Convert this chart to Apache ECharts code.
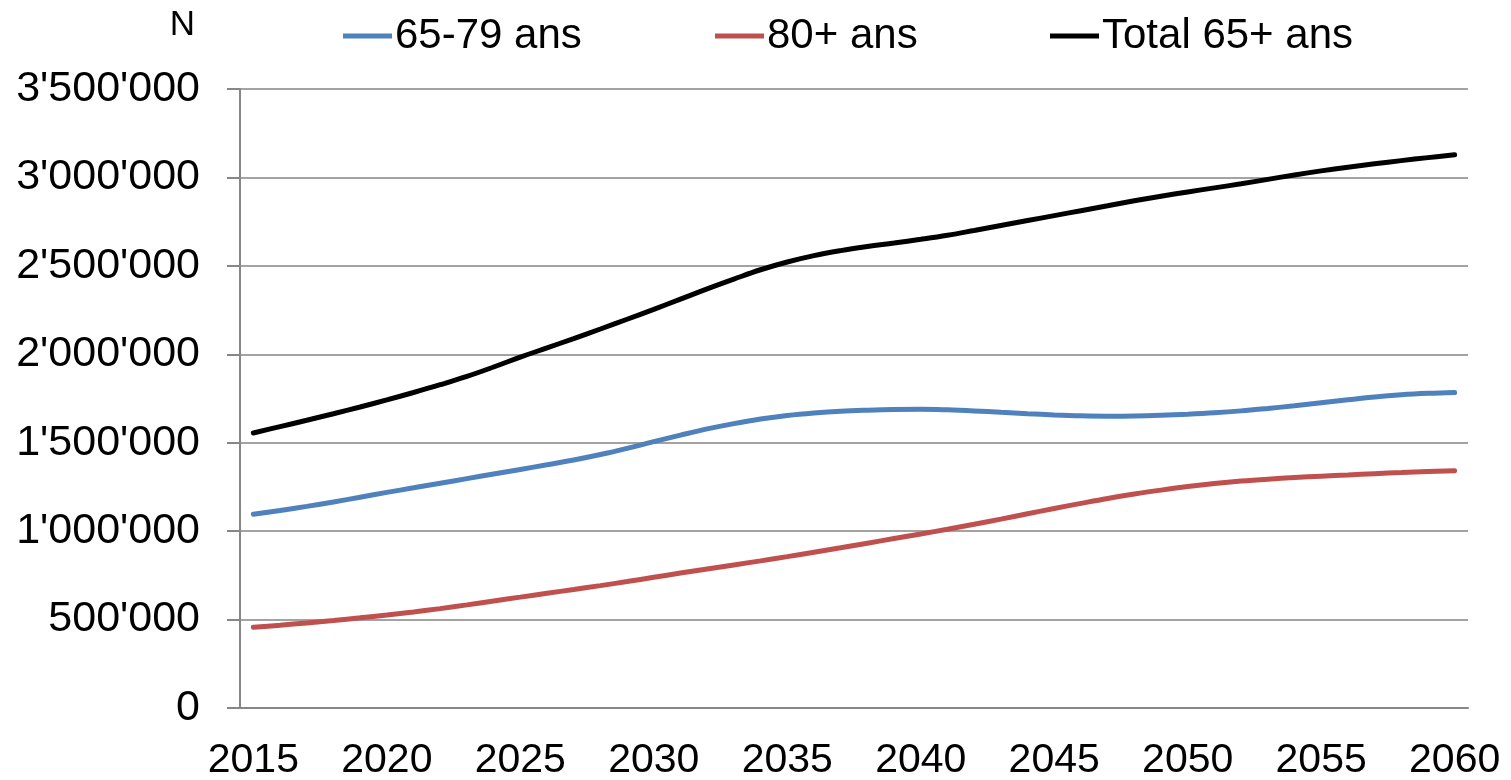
<!DOCTYPE html>
<html>
<head>
<meta charset="utf-8">
<title>Population 65+</title>
<script src="https://cdn.jsdelivr.net/npm/echarts@6/dist/echarts.min.js"></script>
<style>
  html, body { margin: 0; padding: 0; background: #fff; }
  #chart { width: 1511px; height: 780px; }
</style>
</head>
<body>
<div id="chart"></div>
<script>
// années 2015..2060
const years = [
  '2015','2016','2017','2018','2019','2020','2021','2022','2023','2024',
  '2025','2026','2027','2028','2029','2030','2031','2032','2033','2034',
  '2035','2036','2037','2038','2039','2040','2041','2042','2043','2044',
  '2045','2046','2047','2048','2049','2050','2051','2052','2053','2054',
  '2055','2056','2057','2058','2059','2060'
];

// 65-79 ans
const age6579 = [
  1096000, 1117000, 1140000, 1165000, 1192000, 1219000, 1245000, 1271000, 1297000, 1323000,
  1349000, 1375000, 1402000, 1433000, 1468000, 1506000, 1543000, 1578000, 1608000, 1634000,
  1654000, 1668000, 1678000, 1684000, 1688000, 1689000, 1686000, 1680000, 1672000, 1664000,
  1657000, 1652000, 1650000, 1651000, 1655000, 1661000, 1669000, 1680000, 1694000, 1709000,
  1726000, 1743000, 1759000, 1771000, 1779000, 1784000
];

// 80+ ans
const age80 = [
  456000, 468000, 481000, 495000, 510000, 526000, 543000, 562000, 583000, 605000,
  627000, 649000, 670000, 692000, 715000, 739000, 763000, 786000, 809000, 832000,
  856000, 881000, 906000, 932000, 958000, 984000, 1011000, 1039000, 1068000, 1098000,
  1128000, 1157000, 1185000, 1210000, 1232000, 1252000, 1269000, 1283000, 1294000, 1303000,
  1311000, 1318000, 1325000, 1331000, 1337000, 1342000
];

// Total 65+ ans
const total65 = [
  1555000, 1591000, 1627000, 1664000, 1702000, 1742000, 1784000, 1828000, 1875000, 1928000,
  1984000, 2036000, 2089000, 2143000, 2198000, 2254000, 2312000, 2370000, 2425000, 2478000,
  2522000, 2558000, 2586000, 2609000, 2629000, 2650000, 2673000, 2700000, 2728000, 2756000,
  2784000, 2812000, 2840000, 2868000, 2894000, 2918000, 2941000, 2964000, 2989000, 3014000,
  3037000, 3058000, 3077000, 3095000, 3112000, 3128000
];

const FONT = '"Liberation Sans", Arial, sans-serif';
const AXIS_GREY = '#878787';
const GRID_GREY = '#a3a3a3';

function fmt(v) {
  return String(v).replace(/\B(?=(\d{3})+(?!\d))/g, "'");
}

// une légende par série, pour les placer comme dans l'original
function legendAt(name, left) {
  return {
    data: [name],
    left: left,
    top: 15,
    padding: 0,
    icon: 'rect',
    itemWidth: 49,
    itemHeight: 5,
    selectedMode: false,
    textStyle: { fontFamily: FONT, fontSize: 42, lineHeight: 42, color: '#000', padding: [0, 0, 0, -2] }
  };
}

let myChart = echarts.init(document.getElementById('chart'));

let option = {
  animation: false,
  backgroundColor: '#fff',
  legend: [
    legendAt('65-79 ans', 343),
    legendAt('80+ ans', 715),
    legendAt('Total 65+ ans', 1050)
  ],
  grid: {
    left: 240,
    right: 43,
    top: 89,
    bottom: 72,
    outerBoundsMode: 'none'
  },
  xAxis: {
    type: 'category',
    data: years,
    boundaryGap: true,
    axisLine: { lineStyle: { color: AXIS_GREY, width: 2 } },
    axisTick: { interval: 0, length: 13, lineStyle: { color: AXIS_GREY, width: 2 } },
    axisLabel: {
      interval: 4,
      margin: 32,
      fontFamily: FONT,
      fontSize: 41,
      lineHeight: 41,
      color: '#000'
    }
  },
  yAxis: {
    type: 'value',
    min: 0,
    max: 3500000,
    interval: 500000,
    name: 'N',
    nameLocation: 'end',
    nameGap: 46,
    nameTextStyle: {
      fontFamily: FONT,
      fontSize: 35,
      color: '#000',
      align: 'right',
      padding: [0, 45, 0, 0]
    },
    axisLine: { show: true, lineStyle: { color: AXIS_GREY, width: 2 } },
    axisTick: { show: true, length: 13, lineStyle: { color: AXIS_GREY, width: 2 } },
    splitLine: { lineStyle: { color: GRID_GREY, width: 2 } },
    axisLabel: {
      margin: 40,
      fontFamily: FONT,
      fontSize: 43,
      color: '#000',
      formatter: fmt
    }
  },
  series: [
    {
      name: '65-79 ans',
      type: 'line',
      data: age6579,
      smooth: 0.4,
      showSymbol: false,
      itemStyle: { color: '#4F81BD' },
      lineStyle: { color: '#4F81BD', width: 5, cap: 'round' }
    },
    {
      name: '80+ ans',
      type: 'line',
      data: age80,
      smooth: 0.4,
      showSymbol: false,
      itemStyle: { color: '#C0504D' },
      lineStyle: { color: '#C0504D', width: 5, cap: 'round' }
    },
    {
      name: 'Total 65+ ans',
      type: 'line',
      data: total65,
      smooth: 0.4,
      showSymbol: false,
      itemStyle: { color: '#000000' },
      lineStyle: { color: '#000000', width: 5, cap: 'round' }
    }
  ]
};

myChart.setOption(option);
</script>
</body>
</html>
